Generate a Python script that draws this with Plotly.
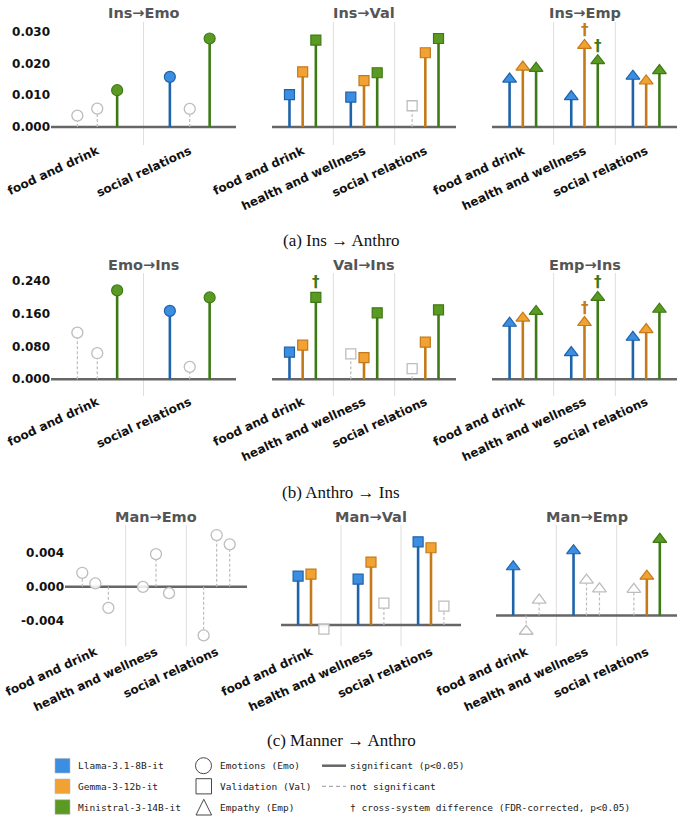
import plotly.graph_objects as go

W, H = 683, 821

# ---------------- data ----------------
MODELS = ["Llama-3.1-8B-it", "Gemma-3-12b-it", "Ministral-3-14B-it"]
CATS2 = ["food and drink", "social relations"]
CATS3 = ["food and drink", "health and wellness", "social relations"]
TITLES = ["Ins→Emo", "Ins→Val", "Ins→Emp",
          "Emo→Ins", "Val→Ins", "Emp→Ins",
          "Man→Emo", "Man→Val", "Man→Emp"]
CAPTIONS = ["(a) Ins → Anthro", "(b) Anthro → Ins", "(c) Manner → Anthro"]

YTICKS_A = [0.0, 0.01, 0.02, 0.03]
YTICKTEXT_A = ["0.000", "0.010", "0.020", "0.030"]
YTICKS_B = [0.0, 0.08, 0.16, 0.24]
YTICKTEXT_B = ["0.000", "0.080", "0.160", "0.240"]
YTICKS_C = [-0.004, 0.0, 0.004]
YTICKTEXT_C = ["-0.004", "0.000", "0.004"]

# (a) Ins -> Anthro
ins_emo_vals = [[0.0036, 0.0158], [0.0058, 0.0057], [0.0116, 0.0279]]
ins_emo_sig = [[0, 1], [0, 0], [1, 1]]
ins_emo_dag = [[0, 0], [0, 0], [0, 0]]

ins_val_vals = [[0.0102, 0.0094, 0.0067], [0.0174, 0.0146, 0.0234], [0.0274, 0.0171, 0.0279]]
ins_val_sig = [[1, 1, 0], [1, 1, 1], [1, 1, 1]]
ins_val_dag = [[0, 0, 0], [0, 0, 0], [0, 0, 0]]

ins_emp_vals = [[0.0151, 0.0096, 0.0160], [0.0189, 0.0257, 0.0145], [0.0185, 0.0209, 0.0178]]
ins_emp_sig = [[1, 1, 1], [1, 1, 1], [1, 1, 1]]
ins_emp_dag = [[0, 0, 0], [0, 1, 0], [0, 1, 0]]

# (b) Anthro -> Ins
emo_ins_vals = [[0.1134, 0.1660], [0.0633, 0.0300], [0.2157, 0.1986]]
emo_ins_sig = [[0, 1], [0, 0], [1, 1]]
emo_ins_dag = [[0, 0], [0, 0], [0, 0]]

val_ins_vals = [[0.0657, 0.0616, 0.0258], [0.0828, 0.0526, 0.0900], [0.1986, 0.1614, 0.1687]]
val_ins_sig = [[1, 0, 0], [1, 1, 1], [1, 1, 1]]
val_ins_dag = [[0, 0, 0], [0, 0, 0], [1, 0, 0]]

emp_ins_vals = [[0.1360, 0.0648, 0.1020], [0.1485, 0.1378, 0.1207], [0.1646, 0.1986, 0.1700]]
emp_ins_sig = [[1, 1, 1], [1, 1, 1], [1, 1, 1]]
emp_ins_dag = [[0, 0, 0], [0, 1, 0], [0, 1, 0]]

# (c) Manner -> Anthro
man_emo_vals = [[0.00165, 0.0000, -0.00570], [0.00040, 0.00385, 0.00608], [-0.00247, -0.00074, 0.00499]]
man_emo_sig = [[0, 0, 0], [0, 0, 0], [0, 0, 0]]
man_emo_dag = [[0, 0, 0], [0, 0, 0], [0, 0, 0]]

man_val_vals = [[0.00573, 0.00537, 0.00976], [0.00596, 0.00738, 0.00906], [-0.00050, 0.00255, 0.00220]]
man_val_sig = [[1, 1, 1], [1, 1, 1], [0, 0, 0]]
man_val_dag = [[0, 0, 0], [0, 0, 0], [0, 0, 0]]

man_emp_vals = [[0.00572, 0.00760, 0.00306], [-0.00185, 0.00415, 0.00462], [0.00180, 0.00313, 0.00894]]
man_emp_sig = [[1, 1, 0], [0, 0, 1], [0, 0, 1]]
man_emp_dag = [[0, 0, 0], [0, 0, 0], [0, 0, 0]]

PANELS = [
    (CATS2, ins_emo_vals, ins_emo_sig, ins_emo_dag, "circle"),
    (CATS3, ins_val_vals, ins_val_sig, ins_val_dag, "square"),
    (CATS3, ins_emp_vals, ins_emp_sig, ins_emp_dag, "triangle-up"),
    (CATS2, emo_ins_vals, emo_ins_sig, emo_ins_dag, "circle"),
    (CATS3, val_ins_vals, val_ins_sig, val_ins_dag, "square"),
    (CATS3, emp_ins_vals, emp_ins_sig, emp_ins_dag, "triangle-up"),
    (CATS3, man_emo_vals, man_emo_sig, man_emo_dag, "circle"),
    (CATS3, man_val_vals, man_val_sig, man_val_dag, "square"),
    (CATS3, man_emp_vals, man_emp_sig, man_emp_dag, "triangle-up"),
]

# ---------------- style / layout ----------------
FILL = ["#3b8ee2", "#f2a232", "#5b9a22"]
STEM = ["#1f63aa", "#c47a18", "#3d7a16"]
NS = "#bdbdbd"
OFFSET = 0.215

ROW_Y = [(22, 145), (273, 396), (525, 646)]
COL_X = [[(51, 236), (272, 456), (492, 677)],
         [(51, 236), (272, 456), (492, 677)],
         [(65, 247), (281, 461), (496, 677)]]
Y_RANGES = [(-0.00568, 0.0331)] * 3 + [(-0.0406, 0.258)] * 3 + \
           [(-0.00694, 0.00726), (-0.00247, 0.01173), (-0.00358, 0.01062)]
YTICKS = [(YTICKS_A, YTICKTEXT_A), (YTICKS_B, YTICKTEXT_B), (YTICKS_C, YTICKTEXT_C)]
TITLE_Y = [13, 265, 517]
CAPTION_Y = [241, 493, 740]


def px(x):
    return x / W


def py(y):
    return 1 - y / H


BOLD = dict(family="DejaVu Sans", size=12, color="#111111", weight="bold")

fig = go.Figure()
shapes = []
annotations = []
layout = {}

for i, (cats, vals, sig, dag, sym) in enumerate(PANELS):
    r, c = divmod(i, 3)
    xn = "x" if i == 0 else f"x{i+1}"
    yn = "y" if i == 0 else f"y{i+1}"
    xk = "xaxis" if i == 0 else f"xaxis{i+1}"
    yk = "yaxis" if i == 0 else f"yaxis{i+1}"
    ncat = len(cats)
    x0, x1 = COL_X[r][c]
    y0, y1 = ROW_Y[r]
    layout[xk] = dict(domain=[px(x0), px(x1)], range=[-0.5, ncat - 0.5], anchor=yn,
                      tickvals=list(range(ncat)), ticktext=cats, tickangle=-25,
                      ticklabelstandoff=-4,
                      tickfont=BOLD, showgrid=False, zeroline=False, showline=False,
                      ticks="", automargin=False, fixedrange=True)
    tv, tt = YTICKS[r]
    layout[yk] = dict(domain=[py(y1), py(y0)], range=list(Y_RANGES[i]), anchor=xn,
                      tickvals=tv, ticktext=tt, showticklabels=(c == 0),
                      tickfont=BOLD, showgrid=False, zeroline=False, showline=False,
                      ticks="", automargin=False, fixedrange=True)
    # category separators
    for k in range(ncat - 1):
        shapes.append(dict(type="line", xref=xn, yref=f"{yn} domain", x0=k + 0.5, x1=k + 0.5,
                           y0=0, y1=1, line=dict(color="#dedede", width=1), layer="below"))
    # baseline
    shapes.append(dict(type="line", xref=f"{xn} domain", yref=yn, x0=0, x1=1, y0=0, y1=0,
                       line=dict(color="#666666", width=2.5), layer="below"))
    # title
    annotations.append(dict(text=TITLES[i], xref="paper", yref="paper",
                            x=px((x0 + x1) / 2), y=py(TITLE_Y[r]), showarrow=False,
                            xanchor="center", yanchor="middle",
                            font=dict(family="DejaVu Sans", size=14.5, color="#555555", weight="bold")))
    # stems & markers
    for m in range(3):
        xs_s, ys_s, xs_n, ys_n = [], [], [], []
        mx_s, my_s, mx_n, my_n = [], [], [], []
        for j in range(ncat):
            xp = j + (m - 1) * OFFSET
            v = vals[m][j]
            if sig[m][j]:
                xs_s += [xp, xp, None]
                ys_s += [0, v, None]
                mx_s.append(xp)
                my_s.append(v)
            else:
                xs_n += [xp, xp, None]
                ys_n += [0, v, None]
                mx_n.append(xp)
                my_n.append(v)
            if dag[m][j]:
                annotations.append(dict(text="†", xref=xn, yref=yn, x=xp, y=v, yshift=15,
                                        showarrow=False, xanchor="center", yanchor="middle",
                                        font=dict(family="DejaVu Sans", size=15, color=STEM[m],
                                                  weight="bold")))
        msize = {"circle": 11, "square": 10, "triangle-up": 12}[sym]
        if xs_n:
            fig.add_trace(go.Scatter(x=xs_n, y=ys_n, xaxis=xn, yaxis=yn, mode="lines",
                                     line=dict(color=NS, width=1.2, dash="3px,2px"),
                                     hoverinfo="skip"))
            fig.add_trace(go.Scatter(x=mx_n, y=my_n, xaxis=xn, yaxis=yn, mode="markers",
                                     marker=dict(symbol=sym, size=msize, color="rgba(255,255,255,0.85)",
                                                 line=dict(color=NS, width=1.3)),
                                     hoverinfo="skip"))
        if xs_s:
            fig.add_trace(go.Scatter(x=xs_s, y=ys_s, xaxis=xn, yaxis=yn, mode="lines",
                                     line=dict(color=STEM[m], width=2.6), hoverinfo="skip"))
            fig.add_trace(go.Scatter(x=mx_s, y=my_s, xaxis=xn, yaxis=yn, mode="markers",
                                     marker=dict(symbol=sym, size=msize, color=FILL[m],
                                                 line=dict(color=STEM[m], width=1.2)),
                                     hoverinfo="skip"))

# captions
for r in range(3):
    annotations.append(dict(text=CAPTIONS[r], xref="paper", yref="paper", x=px(341), y=py(CAPTION_Y[r]),
                            showarrow=False, xanchor="center", yanchor="middle",
                            font=dict(family="Liberation Serif", size=17, color="#111111")))

# legend (drawn as layout decoration)
LEG_Y = [765.7, 786.3, 807]
MONO = dict(family="DejaVu Sans Mono", size=9.5, color="#222222")
for m in range(3):
    yc = LEG_Y[m]
    shapes.append(dict(type="rect", xref="paper", yref="paper", x0=px(55), x1=px(70),
                       y0=py(yc + 7.3), y1=py(yc - 7.3), fillcolor=FILL[m],
                       line=dict(color="#bbbbbb", width=0.6)))
    annotations.append(dict(text=MODELS[m], xref="paper", yref="paper", x=px(76), y=py(yc),
                            showarrow=False, xanchor="left", yanchor="middle", font=MONO))
SHAPE_NAMES = ["Emotions (Emo)", "Validation (Val)", "Empathy (Emp)"]
shapes.append(dict(type="circle", xref="paper", yref="paper", x0=px(195.5), x1=px(211.5),
                   y0=py(LEG_Y[0] + 8), y1=py(LEG_Y[0] - 8), line=dict(color="#333333", width=0.9)))
shapes.append(dict(type="rect", xref="paper", yref="paper", x0=px(196), x1=px(211.5),
                   y0=py(LEG_Y[1] + 7.6), y1=py(LEG_Y[1] - 7.6), line=dict(color="#333333", width=0.9)))
tx0, tx1, tym = px(196), px(211.6), px(203.8)
shapes.append(dict(type="path", xref="paper", yref="paper",
                   path=f"M {tx0},{py(815)} L {tx1},{py(815)} L {tym},{py(799.3)} Z",
                   line=dict(color="#333333", width=0.9)))
for k in range(3):
    annotations.append(dict(text=SHAPE_NAMES[k], xref="paper", yref="paper", x=px(218), y=py(LEG_Y[k]),
                            showarrow=False, xanchor="left", yanchor="middle", font=MONO))
shapes.append(dict(type="line", xref="paper", yref="paper", x0=px(322), x1=px(346),
                   y0=py(LEG_Y[0]), y1=py(LEG_Y[0]), line=dict(color="#666666", width=2.5)))
shapes.append(dict(type="line", xref="paper", yref="paper", x0=px(322), x1=px(346),
                   y0=py(LEG_Y[1]), y1=py(LEG_Y[1]), line=dict(color="#aaaaaa", width=1.2, dash="4px,3px")))
LINE_NAMES = ["significant (p<0.05)", "not significant", "† cross-system difference (FDR-corrected, p<0.05)"]
for k in range(3):
    annotations.append(dict(text=LINE_NAMES[k], xref="paper", yref="paper", x=px(348), y=py(LEG_Y[k]),
                            showarrow=False, xanchor="left", yanchor="middle", font=MONO))

fig.update_layout(width=W, height=H, margin=dict(l=0, r=0, t=0, b=0),
                  plot_bgcolor="white", paper_bgcolor="white", showlegend=False,
                  shapes=shapes, annotations=annotations, **layout)

fig.write_html("out.html")
